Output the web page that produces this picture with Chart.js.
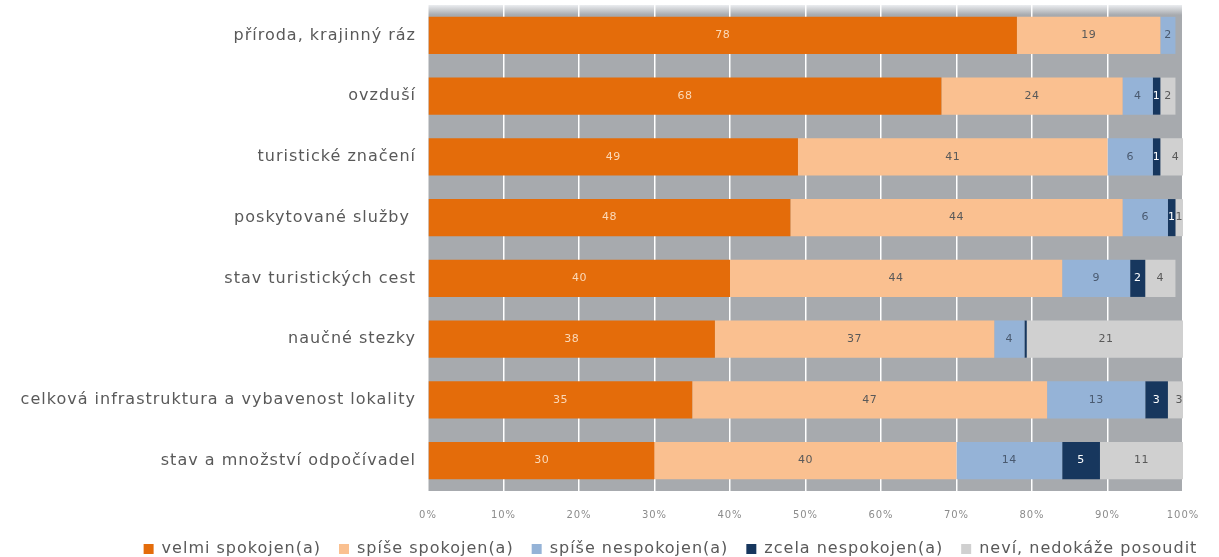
<!DOCTYPE html>
<html>
<head>
<meta charset="utf-8">
<script src="https://cdn.jsdelivr.net/npm/chart.js@4"></script>
<style>
  html, body { margin: 0; padding: 0; background: #fff; }
  #wrap { width: 1219px; height: 557px; }
</style>
</head>
<body>
<div id="wrap"><canvas id="graf"></canvas></div>
<script>
"use strict"

// kategorie (odshora dolu)
const categories = [
  "příroda, krajinný ráz",
  "ovzduší",
  "turistické značení",
  "poskytované služby ",
  "stav turistických cest",
  "naučné stezky",
  "celková infrastruktura a vybavenost lokality",
  "stav a množství odpočívadel"
];

// hodnoty v %
const velmiSpokojen   = [78, 68, 49, 48, 40, 38, 35, 30];
const spiseSpokojen   = [19, 24, 41, 44, 44, 37, 47, 40];
const spiseNespokojen = [2, 4, 6, 6, 9, 4, 13, 14];
const zcelaNespokojen = [0, 1, 1, 1, 2, 0.3, 3, 5];
const neviPosoudit    = [0, 2, 4, 1, 4, 21, 3, 11];

const tickLabels = ["0%", "10%", "20%", "30%", "40%", "50%", "60%", "70%", "80%", "90%", "100%"];

const seriesNames = ["velmi spokojen(a)", "spíše spokojen(a)", "spíše nespokojen(a)", "zcela nespokojen(a)", "neví, nedokáže posoudit"];
const seriesColors = ["#E46C0A", "#FAC090", "#95B3D7", "#17375E", "#D0D0D0"];
const labelColors = ["#FBD9B8", "#595959", "#4A5A70", "#FFFFFF", "#595959"];

const font = "'DejaVu Sans', sans-serif";

// trochu sirsi pismo (predloha je roztazena)
const rozpal = {
  id: "rozpal",
  beforeLayout(chart) { chart.ctx.letterSpacing = "1px"; },
  beforeDraw(chart) { chart.ctx.letterSpacing = "1px"; },
  afterLayout(chart) {
    // legenda je v predloze posunuta doprava
    chart.legend.left += 79;
    chart.legend.right += 79;
  }
};

// sede pozadi grafu
const pozadi = {
  id: "pozadi",
  beforeDraw(chart) {
    const { ctx, chartArea: a } = chart;
    ctx.save();
    ctx.fillStyle = "#A7AAAE";
    ctx.fillRect(a.left, a.top, a.right - a.left, a.bottom - a.top);
    // svetlejsi okraj nahore
    const g = ctx.createLinearGradient(0, a.top, 0, a.top + 10);
    g.addColorStop(0, "rgba(235,237,240,1)");
    g.addColorStop(1, "rgba(235,237,240,0)");
    ctx.fillStyle = g;
    ctx.fillRect(a.left, a.top, a.right - a.left, 10);
    ctx.restore();
  }
};

// popisky hodnot v barech
const popisky = {
  id: "popisky",
  afterDatasetsDraw(chart) {
    const ctx = chart.ctx;
    ctx.save();
    ctx.font = "11px " + font;
    ctx.letterSpacing = "0.5px";
    ctx.textAlign = "center";
    ctx.textBaseline = "middle";
    chart.data.datasets.forEach((ds, i) => {
      const meta = chart.getDatasetMeta(i);
      meta.data.forEach((bar, j) => {
        const v = ds.data[j];
        if (v < 0.5) return;
        ctx.fillStyle = labelColors[i];
        const x = (bar.x + bar.base) / 2;
        ctx.fillText(Math.round(v), x, bar.y);
      });
    });
    ctx.restore();
  }
};

const allSeries = [velmiSpokojen, spiseSpokojen, spiseNespokojen, zcelaNespokojen, neviPosoudit];

new Chart(document.getElementById("graf"), {
  type: "bar",
  data: {
    labels: categories,
    datasets: allSeries.map((d, i) => ({
      label: seriesNames[i],
      data: d,
      backgroundColor: seriesColors[i],
      borderWidth: 0,
      barPercentage: 0.61,
      categoryPercentage: 1
    }))
  },
  options: {
    indexAxis: "y",
    responsive: true,
    maintainAspectRatio: false,
    animation: false,
    layout: { padding: { top: 5, right: 36, bottom: -10, left: 0 } },
    scales: {
      x: {
        stacked: true,
        min: 0,
        max: 100,
        grid: { color: "#FFFFFF", lineWidth: 1.5, drawTicks: false },
        border: { display: false },
        afterFit(scale) { scale.height = 32; },
        ticks: {
          stepSize: 10,
          padding: 18,
          color: "#8C8C8C",
          font: { family: font, size: 10 },
          callback: (v, i) => tickLabels[i]
        }
      },
      y: {
        stacked: true,
        grid: { display: false },
        border: { display: false },
        afterFit(scale) {
          scale.width = 428;
          scale.paddingTop = 0;
          scale.paddingBottom = 0;
        },
        ticks: {
          padding: 4,
          color: "#595959",
          font: { family: font, size: 16 }
        }
      }
    },
    plugins: {
      tooltip: { enabled: false },
      legend: {
        position: "bottom",
        labels: {
          boxWidth: 10,
          boxHeight: 10,
          padding: 18,
          color: "#595959",
          font: { family: font, size: 16 }
        }
      }
    }
  },
  plugins: [rozpal, pozadi, popisky]
});
</script>
</body>
</html>
